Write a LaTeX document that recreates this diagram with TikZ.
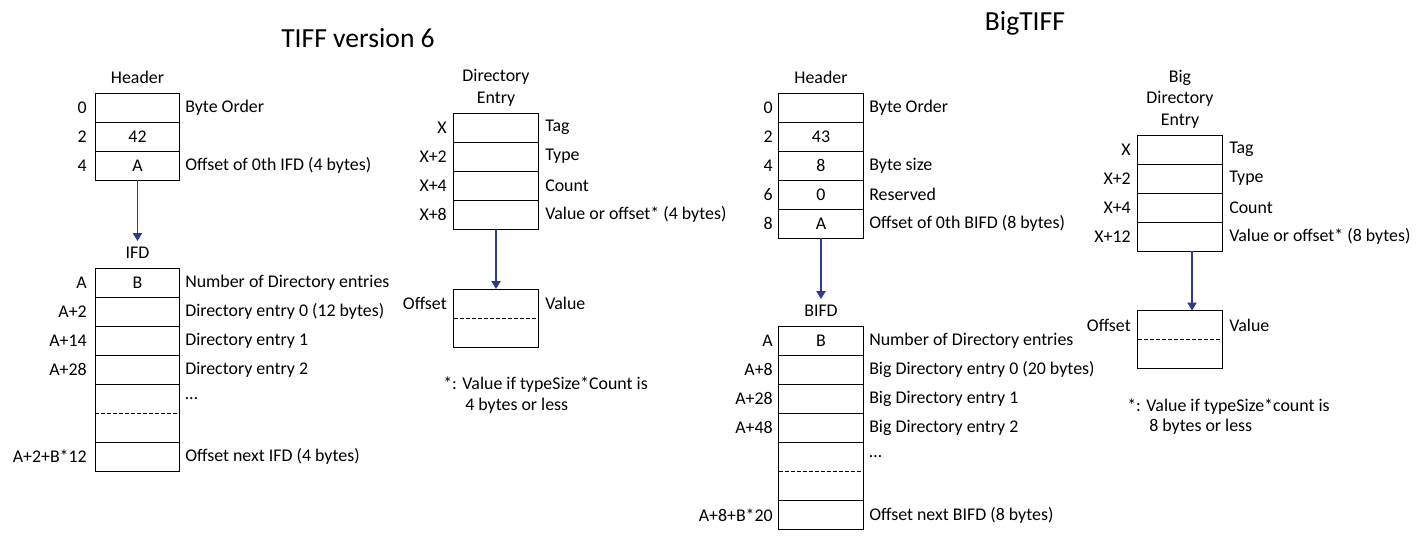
\documentclass[tikz,border=0pt]{standalone}
\usepackage{fontspec}
\setmainfont{Carlito}
\usetikzlibrary{arrows.meta}
\definecolor{arrowblue}{HTML}{2E3A8F}
\tikzset{
  cell/.style={draw=black, line width=0.75pt, minimum width=63.5pt, minimum height=21.75pt, inner sep=0pt, outer sep=0pt, font=\fontsize{13.4}{15}\selectfont},
  bigcell/.style={cell, minimum height=43.5pt},
  offl/.style={anchor=east, inner sep=0pt, font=\fontsize{13.4}{15}\selectfont},
  desc/.style={anchor=west, inner sep=0pt, font=\fontsize{13.4}{15}\selectfont},
  ttl/.style={inner sep=0pt, align=center, font=\fontsize{13.4}{16.2}\selectfont},
  maintitle/.style={inner sep=0pt, font=\fontsize{20.7}{22}\selectfont},
  arr/.style={draw=arrowblue, line width=0.9pt, -{Triangle[width=7pt,length=6pt]}},
  dashsep/.style={draw=black, line width=0.6pt, dash pattern=on 3pt off 1.5pt}
}
\begin{document}
\begin{tikzpicture}[x=0.75pt,y=-0.75pt]
\useasboundingbox[fill=white] (0,0) rectangle (1428,553);

% ---------------- TIFF version 6 ----------------
\node[maintitle] (t1) at (358,38) {TIFF version 6};

% Header
\node[ttl] (hdr) at (137.5,77) {Header};
\node[cell] (h0) at (137.5,107.5) {};
\node[cell] (h1) at (137.5,136.5) {42};
\node[cell] (h2) at (137.5,165.5) {A};
\node[offl] (h0o) at (87,107.5) {0};
\node[offl] (h1o) at (87,136.5) {2};
\node[offl] (h2o) at (87,165.5) {4};
\node[desc] (h0d) at (185,107.5) {Byte Order};
\node[desc] (h2d) at (185,165.5) {Offset of 0th IFD (4 bytes)};

% IFD
\node[ttl] (ifd) at (137.5,253) {IFD};
\draw[arr] (h2.south) -- (137.5,241);
\node[cell] (i0) at (137.5,282.5) {B};
\node[cell] (i1) at (137.5,311.5) {};
\node[cell] (i2) at (137.5,340.5) {};
\node[cell] (i3) at (137.5,369.5) {};
\node[bigcell] (i4) at (137.5,413) {};
\draw[dashsep] (i4.west) -- (i4.east);
\node[cell] (i5) at (137.5,456.5) {};
\node[offl] (i0o) at (87,282.5) {A};
\node[offl] (i1o) at (87,311.5) {A+2};
\node[offl] (i2o) at (87,340.5) {A+14};
\node[offl] (i3o) at (87,369.5) {A+28};
\node[offl] (i5o) at (87,456.5) {A+2+B*12};
\node[desc] (i0d) at (185,282.5) {Number of Directory entries};
\node[desc] (i1d) at (185,311.5) {Directory entry 0 (12 bytes)};
\node[desc] (i2d) at (185,340.5) {Directory entry 1};
\node[desc] (i3d) at (185,369.5) {Directory entry 2};
\node[desc] (i4d) at (185,398.5) {\dots};
\node[desc] (i5d) at (185,456.5) {Offset next IFD (4 bytes)};

% Directory Entry
\node[ttl] (de) at (496,88) {Directory\\Entry};
\node[cell] (d0) at (496,127.5) {};
\node[cell] (d1) at (496,156.5) {};
\node[cell] (d2) at (496,185.5) {};
\node[cell] (d3) at (496,214.5) {};
\node[offl] (d0o) at (447,127.5) {X};
\node[offl] (d1o) at (447,156.5) {X+2};
\node[offl] (d2o) at (447,185.5) {X+4};
\node[offl] (d3o) at (447,214.5) {X+8};
\node[desc] (d0d) at (545,127.5) {Tag};
\node[desc] (d1d) at (545,156.5) {Type};
\node[desc] (d2d) at (545,185.5) {Count};
\node[desc] (d3d) at (545,214.5) {Value or offset* (4 bytes)};
\node[bigcell] (dv) at (496,318) {};
\draw[dashsep] (dv.west) -- (dv.east);
\draw[arr] (d3.south) -- (dv.north);
\node[offl] (dvo) at (447,303) {Offset};
\node[desc] (dvd) at (545,303) {Value};
\node[desc] (fn1a) at (443,385) {*: Value if typeSize*Count is};
\node[desc] (fn1b) at (465,406) {4 bytes or less};

% ---------------- BigTIFF ----------------
\node[maintitle] (t2) at (1025,23) {BigTIFF};

% Header
\node[ttl] (bhdr) at (821,77) {Header};
\node[cell] (b0) at (821,107.5) {};
\node[cell] (b1) at (821,136.5) {43};
\node[cell] (b2) at (821,165.5) {8};
\node[cell] (b3) at (821,194.5) {0};
\node[cell] (b4) at (821,223.5) {A};
\node[offl] (b0o) at (773,107.5) {0};
\node[offl] (b1o) at (773,136.5) {2};
\node[offl] (b2o) at (773,165.5) {4};
\node[offl] (b3o) at (773,194.5) {6};
\node[offl] (b4o) at (773,223.5) {8};
\node[desc] (b0d) at (869,107.5) {Byte Order};
\node[desc] (b2d) at (869,165.5) {Byte size};
\node[desc] (b3d) at (869,194.5) {Reserved};
\node[desc] (b4d) at (869,223.5) {Offset of 0th BIFD (8 bytes)};

% BIFD
\node[ttl] (bifd) at (821,311) {BIFD};
\draw[arr] (b4.south) -- (821,299);
\node[cell] (f0) at (821,340.5) {B};
\node[cell] (f1) at (821,369.5) {};
\node[cell] (f2) at (821,398.5) {};
\node[cell] (f3) at (821,427.5) {};
\node[bigcell] (f4) at (821,471.5) {};
\draw[dashsep] (f4.west) -- (f4.east);
\node[cell] (f5) at (821,515) {};
\node[offl] (f0o) at (773,340.5) {A};
\node[offl] (f1o) at (773,369.5) {A+8};
\node[offl] (f2o) at (773,398.5) {A+28};
\node[offl] (f3o) at (773,427.5) {A+48};
\node[offl] (f5o) at (773,515) {A+8+B*20};
\node[desc] (f0d) at (869,340.5) {Number of Directory entries};
\node[desc] (f1d) at (869,369.5) {Big Directory entry 0 (20 bytes)};
\node[desc] (f2d) at (869,398.5) {Big Directory entry 1};
\node[desc] (f3d) at (869,427.5) {Big Directory entry 2};
\node[desc] (f4d) at (869,457) {\dots};
\node[desc] (f5d) at (869,515) {Offset next BIFD (8 bytes)};

% Big Directory Entry
\node[ttl] (bde) at (1180,99) {Big\\Directory\\Entry};
\node[cell] (g0) at (1180,149.5) {};
\node[cell] (g1) at (1180,178.5) {};
\node[cell] (g2) at (1180,207.5) {};
\node[cell] (g3) at (1180,236.5) {};
\node[offl] (g0o) at (1131,149.5) {X};
\node[offl] (g1o) at (1131,178.5) {X+2};
\node[offl] (g2o) at (1131,207.5) {X+4};
\node[offl] (g3o) at (1131,236.5) {X+12};
\node[desc] (g0d) at (1229,149.5) {Tag};
\node[desc] (g1d) at (1229,178.5) {Type};
\node[desc] (g2d) at (1229,207.5) {Count};
\node[desc] (g3d) at (1229,236.5) {Value or offset* (8 bytes)};
\node[bigcell] (gv) at (1180,339.5) {};
\draw[dashsep] (gv.west) -- (gv.east);
\draw[arr] ([xshift=9pt]g3.south) -- ([xshift=9pt]gv.north);
\node[offl] (gvo) at (1131,325) {Offset};
\node[desc] (gvd) at (1229,325) {Value};
\node[desc] (fn2a) at (1127,407) {*: Value if typeSize*count is};
\node[desc] (fn2b) at (1149,427) {8 bytes or less};
\end{tikzpicture}
\end{document}
